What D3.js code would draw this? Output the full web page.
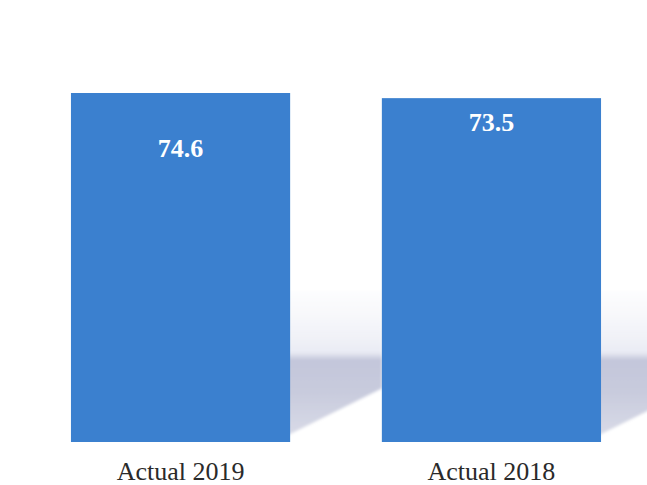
<!DOCTYPE html>
<html><head><meta charset="utf-8">
<script src="https://cdn.jsdelivr.net/npm/d3@7"></script>
<style>body{margin:0;background:#fff}svg{display:block}</style>
</head><body>
<script>
const categories = ["Actual 2019", "Actual 2018"];
const values = [74.6, 73.5];
const valueLabels = ["74.6", "73.5"];

const W = 647, H = 485;
const svg = d3.select("body").append("svg").attr("width", W).attr("height", H);
const baseY = 442;
const x = d3.scaleBand().domain(categories).range([15, 657]).paddingInner(0.295).paddingOuter(0.18);
const y = d3.scaleLinear().domain([0, 74.6]).range([baseY, 93]);
const labelDy = [64, 33];

const defs = svg.append("defs");
const g = defs.append("linearGradient").attr("id", "sh").attr("gradientUnits", "userSpaceOnUse")
  .attr("x1", 0).attr("y1", 280).attr("x2", 0).attr("y2", 440);
[[0, "#f2f3f8", 0], [0.45, "#e6e8f2", 0.85], [0.5, "#c3c6da", 1], [0.7, "#c8cbdd", 1], [1, "#dadce8", 1]]
  .forEach(s => g.append("stop").attr("offset", s[0]).attr("stop-color", s[1]).attr("stop-opacity", s[2]));
defs.append("filter").attr("id", "blur").append("feGaussianBlur").attr("stdDeviation", 1.5);

// shadows
svg.selectAll("path.shadow").data(categories).join("path").attr("class", "shadow")
  .attr("d", d => {
    const r = x(d) + x.bandwidth();
    const w = 92;
    return `M${r - 8},${baseY - 4} L${r - 8},290 L${r + w},290 L${r + w},${baseY - 4 - 0.54 * w} Z`;
  })
  .attr("fill", "url(#sh)")
  .attr("filter", "url(#blur)");

svg.selectAll("rect.bar").data(values).join("rect").attr("class", "bar")
  .attr("x", (d, i) => x(categories[i]))
  .attr("width", x.bandwidth())
  .attr("y", d => y(d))
  .attr("height", d => baseY - y(d))
  .attr("fill", "#3b80cf");

svg.selectAll("text.val").data(values).join("text").attr("class", "val")
  .attr("x", (d, i) => x(categories[i]) + x.bandwidth() / 2)
  .attr("y", (d, i) => y(d) + labelDy[i])
  .attr("text-anchor", "middle")
  .attr("font-family", "Liberation Serif, serif")
  .attr("font-weight", "bold")
  .attr("font-size", 26)
  .attr("fill", "#fff")
  .text((d, i) => valueLabels[i]);

const xAxis = svg.append("g").attr("transform", `translate(0,${baseY})`)
  .call(d3.axisBottom(x).tickSize(0).tickPadding(20));
xAxis.select(".domain").remove();
xAxis.selectAll("text")
  .attr("font-family", "Liberation Serif, serif")
  .attr("font-size", 26)
  .attr("fill", "#2a2a2a");
</script>
</body></html>
